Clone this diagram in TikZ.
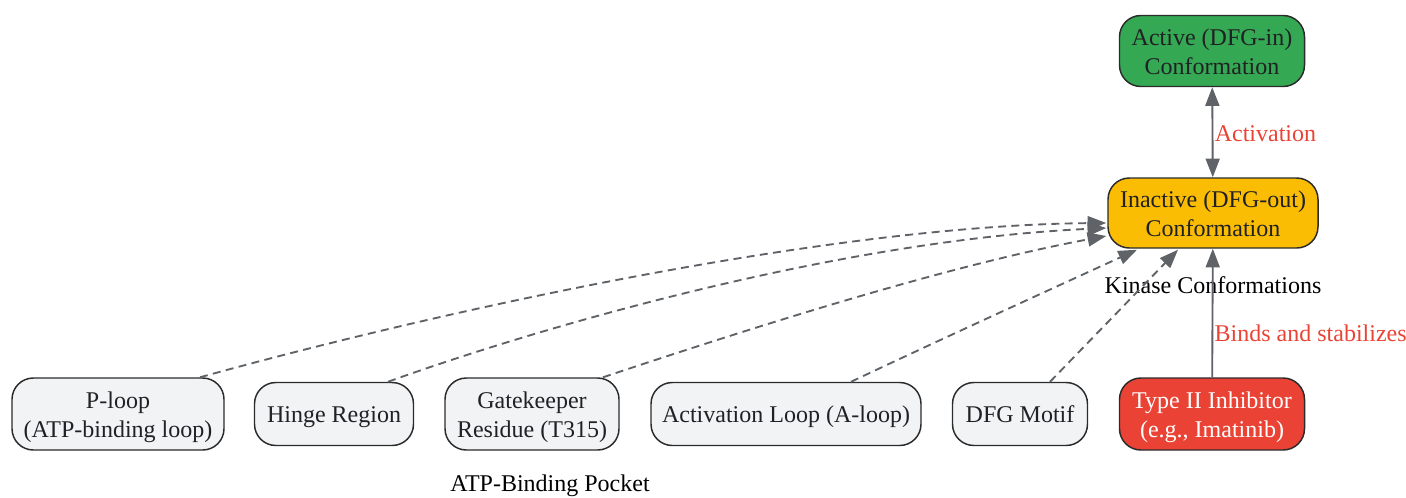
\documentclass[tikz,border=0pt]{standalone}
\usepackage{fontspec}
\setmainfont{Liberation Serif}
\usetikzlibrary{arrows.meta,calc}
\definecolor{cgreen}{HTML}{34A853}
\definecolor{camber}{HTML}{FBBC04}
\definecolor{cred}{HTML}{EA4335}
\definecolor{cgray}{HTML}{F1F3F4}
\definecolor{cedge}{HTML}{5F6368}
\definecolor{ctext}{HTML}{202124}
\definecolor{cborder}{HTML}{2B2B2B}
\begin{document}
\begin{tikzpicture}[x=0.75pt,y=-0.75pt,
  box/.style={draw=cborder,line width=1.1pt,rounded corners=16pt,align=center,
    text=ctext,font=\fontsize{18}{21.75}\selectfont,inner sep=0pt},
  twol/.style={text height=40.7pt,text depth=4.8pt},
  onel/.style={text height=17.5pt,text depth=4.8pt},
  region/.style={box,fill=cgray},
  lbl/.style={font=\fontsize{18}{21.75}\selectfont,inner sep=0pt},
  elbl/.style={font=\fontsize{18}{21.75}\selectfont,text=cred,inner sep=1pt},
  tip/.tip={Triangle[length=14pt,width=10.5pt]},
  conn/.style={draw=cedge,line width=1.4pt,-tip},
  dconn/.style={conn,dash pattern=on 6pt off 4pt}]
\useasboundingbox (0,0) rectangle (1406,497);
\node[box,twol,fill=cgreen,minimum width=138.75pt,minimum height=53.25pt] (active) at (1212,51) {Active (DFG-in)\\Conformation};
\node[box,twol,fill=camber,minimum width=157.5pt,minimum height=52.5pt] (inact) at (1213,213) {Inactive (DFG-out)\\Conformation};
\node[box,twol,fill=cred,text=white,minimum width=138.75pt,minimum height=54pt] (inhib) at (1212,414) {Type II Inhibitor\\(e.g., Imatinib)};
\node[region,twol,minimum width=159pt,minimum height=54pt] (ploop) at (118,414) {P-loop\\(ATP-binding loop)};
\node[region,onel,minimum width=119.25pt,minimum height=47.25pt] (hinge) at (334,414) {Hinge Region};
\node[region,twol,minimum width=130.5pt,minimum height=54pt] (gate) at (532,414) {Gatekeeper\\Residue (T315)};
\node[region,onel,minimum width=202.5pt,minimum height=47.25pt] (aloop) at (786,414) {Activation Loop (A-loop)};
\node[region,onel,minimum width=101.25pt,minimum height=47.25pt] (dfg) at (1020,414) {DFG Motif};
\node[lbl] (kc) at (1213,285) {Kinase Conformations};
\node[lbl] (atp) at (550,486) {ATP-Binding Pocket};

\draw[conn,tip-tip] (active) -- node[elbl,anchor=west,pos=0.5,yshift=-1pt] {Activation} (inact);
\draw[conn] (inhib) -- node[elbl,anchor=west,pos=0.34] {Binds and stabilizes} (inact);

\draw[dconn] ($(ploop.north)+(82,0)$) .. controls (480,300) and (850,225) .. ($(inact.west)+(-1,10)$);
\draw[dconn] ($(hinge.north)+(54,0)$) .. controls (560,320) and (850,240) .. ($(inact.west)+(-1,15)$);
\draw[dconn] ($(gate.north)+(71,0)$) .. controls (760,325) and (950,265) .. ($(inact.west)+(-1,23)$);
\draw[dconn] ($(aloop.north)+(65,0)$) .. controls (950,335) and (1060,285) .. ($(inact.south)+(-76,1)$);
\draw[dconn] ($(dfg.north)+(30,0)$) -- ($(inact.south)+(-35,1)$);
\end{tikzpicture}
\end{document}
